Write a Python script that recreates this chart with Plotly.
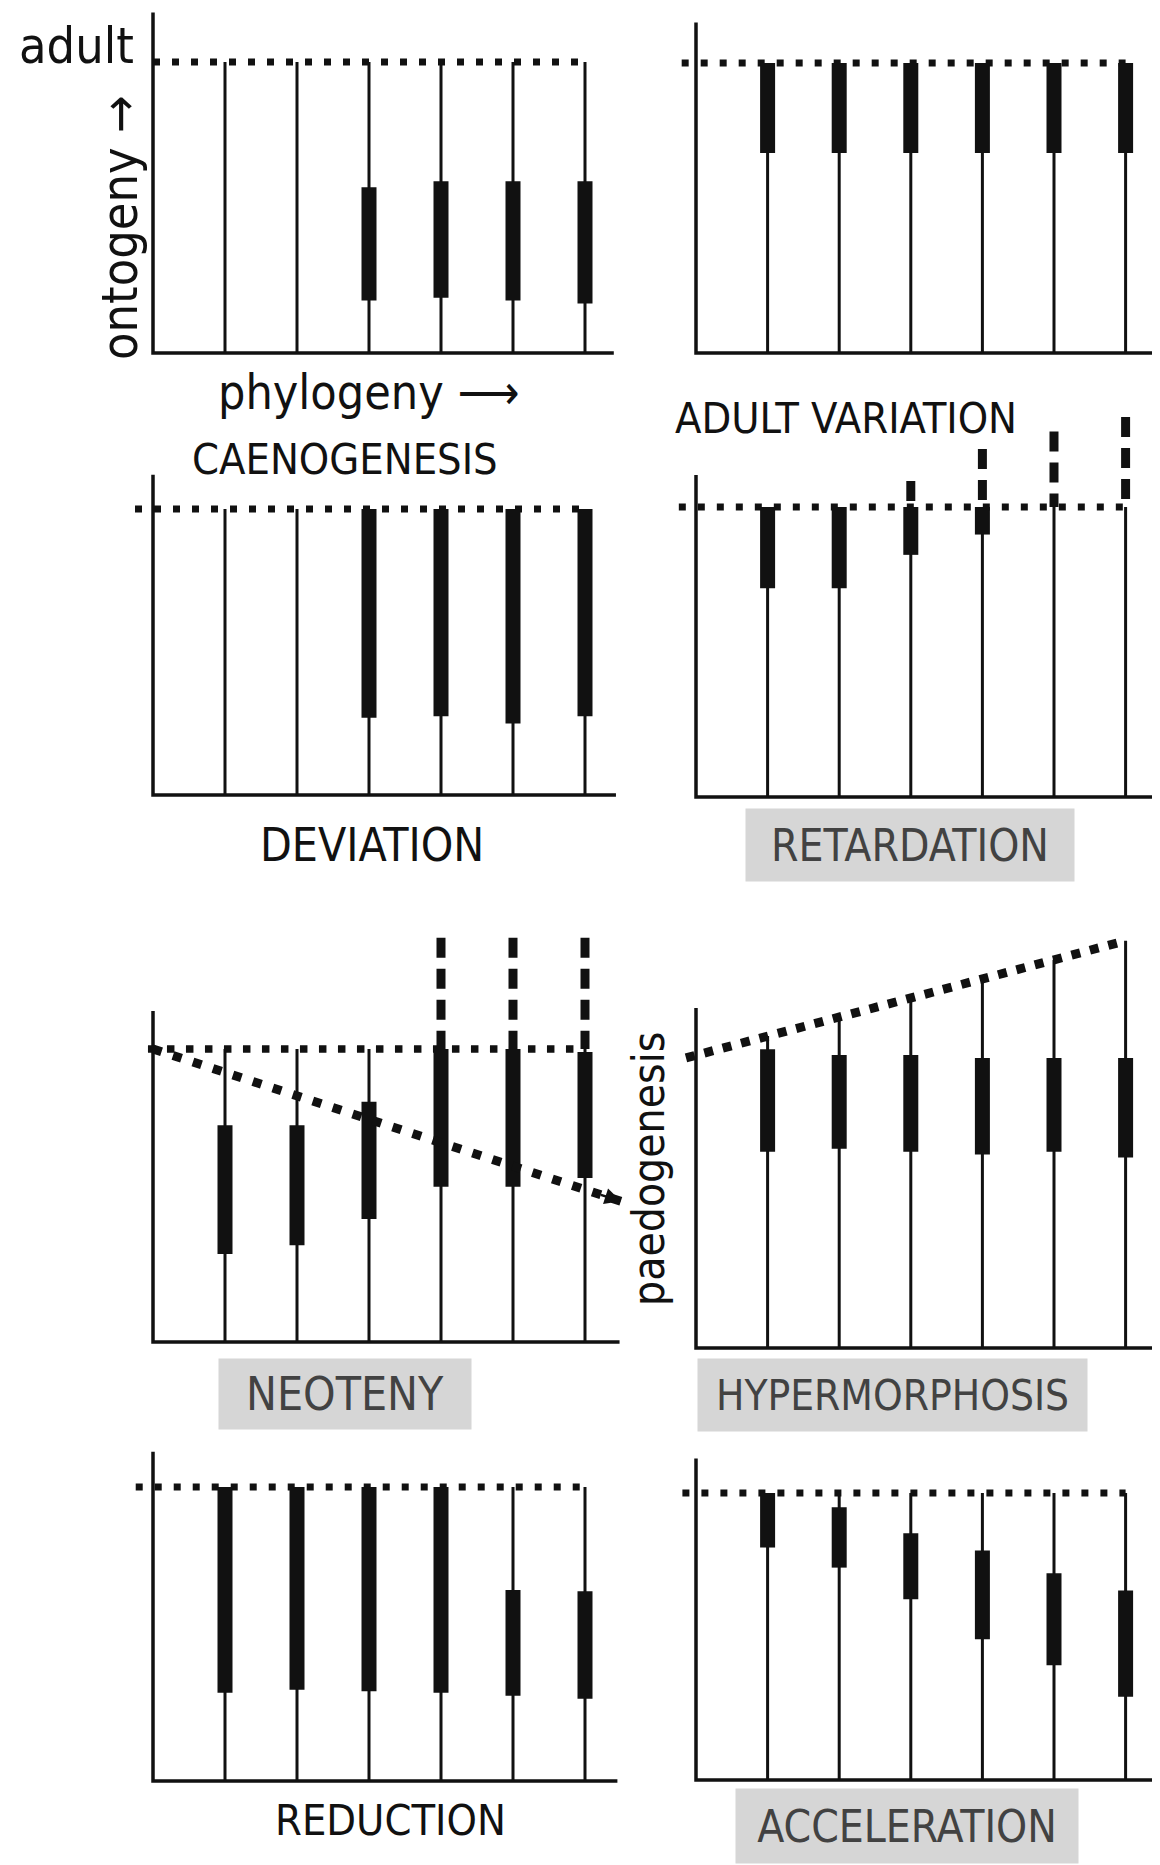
import plotly.graph_objects as go

W, H = 1160, 1865
OFF = 8  # the page body adds an 8px margin; compensate

# ---------------- data ----------------
stem_x = [1, 2, 3, 4, 5, 6]
panel_names = ["CAENOGENESIS", "ADULT VARIATION", "DEVIATION", "RETARDATION",
               "NEOTENY", "HYPERMORPHOSIS", "REDUCTION", "ACCELERATION"]

# thin stem tops (1.0 = adult stage)
caeno_top = [1.0, 1.0, 1.0, 1.0, 1.0, 1.0]
advar_top = [1.0, 1.0, 1.0, 1.0, 1.0, 1.0]
devia_top = [1.0, 1.0, 1.0, 1.0, 1.0, 1.0]
retar_top = [1.0, 1.0, 1.0, 1.0, 1.0, 1.0]
neote_top = [1.0, 1.0, 1.0, 1.0, 1.0, 1.0]
hyper_top = [1.065, 1.13, 1.195, 1.26, 1.325, 1.39]
reduc_top = [1.0, 1.0, 1.0, 1.0, 1.0, 1.0]
accel_top = [1.0, 1.0, 1.0, 1.0, 1.0, 1.0]

# thick (structure present) segments
caeno_lo = [None, None, 0.18, 0.19, 0.18, 0.17]
caeno_hi = [None, None, 0.57, 0.59, 0.59, 0.59]
advar_lo = [0.69, 0.69, 0.69, 0.69, 0.69, 0.69]
advar_hi = [1.0, 1.0, 1.0, 1.0, 1.0, 1.0]
devia_lo = [None, None, 0.27, 0.275, 0.25, 0.275]
devia_hi = [None, None, 1.0, 1.0, 1.0, 1.0]
retar_lo = [0.72, 0.72, 0.835, 0.905, None, None]
retar_hi = [1.0, 1.0, 1.0, 1.0, None, None]
neote_lo = [0.30, 0.33, 0.42, 0.53, 0.53, 0.56]
neote_hi = [0.74, 0.74, 0.82, 1.0, 1.0, 0.99]
hyper_lo = [0.67, 0.68, 0.67, 0.66, 0.67, 0.65]
hyper_hi = [1.02, 1.0, 1.0, 0.99, 0.99, 0.99]
reduc_lo = [0.30, 0.31, 0.305, 0.30, 0.29, 0.28]
reduc_hi = [1.0, 1.0, 1.0, 1.0, 0.65, 0.645]
accel_lo = [0.81, 0.74, 0.63, 0.49, 0.40, 0.29]
accel_hi = [1.0, 0.95, 0.86, 0.80, 0.72, 0.66]

# dashed extensions above adult
retar_dash = [None, None, 1.09, 1.20, 1.26, 1.31]
neote_dash = [None, None, None, 1.38, 1.38, 1.38]

# adult dotted lines (start x, end x, start y, end y)
adult_x0 = [0.0, -0.2, -0.25, -0.24, -0.07, -0.14, -0.24, -0.19]
adult_x1 = [6, 6, 6, 6, 6, 6, 6, 6]
adult_y0 = [1.0, 1.0, 1.0, 1.0, 1.0, 0.99, 1.0, 1.0]
adult_y1 = [1.0, 1.0, 1.0, 1.0, 1.0, 1.39, 1.0, 1.0]

# paedogenesis trajectory (neoteny panel)
paedo_x = [0.0, 6.5]
paedo_y = [1.0, 0.48]

# axis extents of each drawn frame
axis_top = [1.17, 1.14, 1.12, 1.11, 1.13, 1.16, 1.12, 1.12]
axis_end = [6.4, 6.41, 6.43, 6.45, 6.48, 6.5, 6.45, 6.45]

tops = [caeno_top, advar_top, devia_top, retar_top, neote_top, hyper_top, reduc_top, accel_top]
los = [caeno_lo, advar_lo, devia_lo, retar_lo, neote_lo, hyper_lo, reduc_lo, accel_lo]
his = [caeno_hi, advar_hi, devia_hi, retar_hi, neote_hi, hyper_hi, reduc_hi, accel_hi]
dashes = [None, None, None, retar_dash, neote_dash, None, None, None]

# ---------------- layout geometry (pixels in the 1160x1865 window) ----------------
FW, FH = W - OFF, H - OFF
col_x0 = [153, 696]          # pixel of x=0
col_unit = [72.0, 71.6]      # pixels per stem step
col_range = [(-1.2, 6.6), (-0.6, 6.45)]
panel_col = [0, 1, 0, 1, 0, 1, 0, 1]
panel_base = [353, 353, 795, 797, 1342, 1348, 1781, 1780]   # pixel of y=0
panel_v = [291, 290, 286, 290, 293, 293, 294, 287]          # pixels per unit y
dot_w = [7, 7, 7, 7, 7.5, 9, 7, 7]                          # dot size of adult line

def pxx(p):
    return (p - OFF) / FW

def pxy(p):
    return 1 - (p - OFF) / FH

fig = go.Figure()
layout_axes = {}

BLACK = "#111111"
FONT = "DejaVu Sans Condensed, Liberation Sans Narrow, DejaVu Sans, sans-serif"

def sep_segments(xs, y0s, y1s):
    X, Y = [], []
    for x, a, b in zip(xs, y0s, y1s):
        if a is None or b is None:
            continue
        X += [x, x, None]
        Y += [a, b, None]
    return X, Y

for i in range(8):
    n = i + 1
    xa = "x" if n == 1 else f"x{n}"
    ya = "y" if n == 1 else f"y{n}"
    c = panel_col[i]
    a, b = col_range[c]
    X0, U = col_x0[c], col_unit[c]
    B, V = panel_base[i], panel_v[i]
    ytop = min(1.45, (B - OFF - 1) / V)
    ybot = -0.1
    xd = [max(0, pxx(X0 + a * U)), min(1, pxx(X0 + b * U))]
    yd = [max(0, pxy(B - ybot * V)), min(1, pxy(B - ytop * V))]
    layout_axes["xaxis" if n == 1 else f"xaxis{n}"] = dict(
        domain=xd, range=[a, b], visible=False, anchor=ya, fixedrange=True)
    layout_axes["yaxis" if n == 1 else f"yaxis{n}"] = dict(
        domain=yd, range=[ybot, ytop], visible=False, anchor=xa, fixedrange=True)

    common = dict(xaxis=xa, yaxis=ya, mode="lines", hoverinfo="skip", showlegend=False)

    # frame (L-shaped axes)
    fig.add_trace(go.Scatter(x=[0, 0, axis_end[i]], y=[axis_top[i], 0, 0],
                             line=dict(color=BLACK, width=3.5), **common))
    # thin ontogeny stems
    X, Y = sep_segments(stem_x, [0] * 6, tops[i])
    fig.add_trace(go.Scatter(x=X, y=Y, line=dict(color=BLACK, width=3), **common))
    # adult dotted line
    dw = dot_w[i]
    fig.add_trace(go.Scatter(x=[adult_x0[i], adult_x1[i]], y=[adult_y0[i], adult_y1[i]],
                             line=dict(color=BLACK, width=dw, dash=f"{dw}px,{19 - dw}px"), **common))
    # thick structure segments
    X, Y = sep_segments(stem_x, los[i], his[i])
    fig.add_trace(go.Scatter(x=X, y=Y, line=dict(color=BLACK, width=15), **common))
    # dashed extensions
    if dashes[i] is not None:
        X, Y = sep_segments(stem_x, dashes[i], [1.0 if d is not None else None for d in dashes[i]])
        fig.add_trace(go.Scatter(x=X, y=Y, line=dict(color=BLACK, width=9, dash="20px,11px"), **common))

# paedogenesis dotted diagonal in neoteny panel
fig.add_trace(go.Scatter(x=paedo_x, y=paedo_y, xaxis="x5", yaxis="y5", mode="lines",
                         hoverinfo="skip", showlegend=False,
                         line=dict(color=BLACK, width=9, dash="9px,12px")))
slope = (paedo_y[1] - paedo_y[0]) / (paedo_x[1] - paedo_x[0])
ann = []
ann.append(dict(x=paedo_x[1], y=paedo_y[1], xref="x5", yref="y5",
                ax=paedo_x[1] - 0.3, ay=paedo_y[1] - 0.3 * slope, axref="x5", ayref="y5",
                showarrow=True, arrowhead=2, arrowsize=1.3, arrowwidth=2.5,
                arrowcolor=BLACK, text=""))

def label(text, xp, yp, size=42, color=BLACK, box=None, angle=0, xanchor="center"):
    d = dict(text=text, x=pxx(xp), y=pxy(yp), xref="paper", yref="paper", showarrow=False,
             xanchor=xanchor, yanchor="middle", textangle=angle,
             font=dict(family=FONT, size=size, color=color))
    if box is not None:
        d.update(bgcolor="#d6d6d6", width=box[0], height=box[1], align="center", valign="middle")
    ann.append(d)

GREY = "#424242"
label("adult", 136, 46, size=50, xanchor="right")
label("ontogeny →", 120, 228, size=50, angle=-90)
label("phylogeny ⟶", 368, 392, size=48)
label(panel_names[0], 345, 459, size=43)
label(panel_names[1], 846, 418, size=43)
label(panel_names[2], 372, 845, size=46)
label(panel_names[3], 910, 845, size=44, color=GREY, box=(326, 70))
label(panel_names[4], 345, 1394, size=46, color=GREY, box=(250, 68))
label("paedogenesis", 648, 1169, size=44, angle=-90)
label(panel_names[5], 892, 1395, size=42, color=GREY, box=(387, 70))
label(panel_names[6], 390, 1820, size=43)
label(panel_names[7], 907, 1826, size=44, color=GREY, box=(340, 72))

fig.update_layout(width=FW, height=FH, margin=dict(l=0, r=0, t=0, b=0),
                  paper_bgcolor="white", plot_bgcolor="rgba(0,0,0,0)",
                  annotations=ann, **layout_axes)

fig.write_html("out.html")
